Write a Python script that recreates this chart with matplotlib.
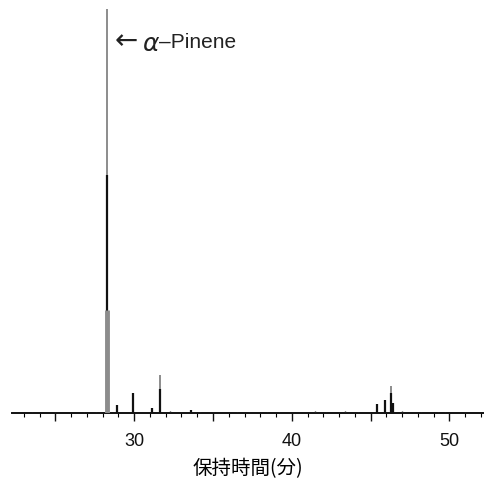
import matplotlib.pyplot as plt
import numpy as np

plt.rcParams['font.family'] = ['Liberation Sans', 'Noto Sans CJK JP', 'DejaVu Sans']

# peaks (retention time in min, height in arbitrary units)
peak_times = [28.29, 28.92, 29.94, 31.1, 31.65, 33.6, 45.4, 45.9, 46.3, 46.45]
black_heights = [238, 8, 20, 5, 24, 3, 9, 13, 20, 10]
gray_heights = [403, 6, 17, 3, 38, 2, 7, 11, 27, 8]
main_thick = 103  # lower wide grey part of the alpha-pinene peak

# baseline bumps
noise_times = [23.5, 25.0, 26.8, 27.6, 32.3, 33.0, 34.2, 35.0, 36.5, 37.3, 38.4,
               39.2, 41.5, 42.2, 43.0, 43.4, 44.2, 47.0, 48.2, 49.3, 49.7, 51.0]
noise_heights = [1, 1, 1, 1, 2, 1.5, 1.5, 1, 1.5, 1, 1, 1, 2, 1, 1.5, 2.5, 1, 2, 1, 1.5, 1.5, 1]

major_ticks = [25, 30, 35, 40, 45, 50]
tick_labels = ['', '30', '', '40', '', '50']

fig = plt.figure(figsize=(4.84, 4.86), dpi=100)
ax = fig.add_axes([0.025, 0.15, 0.975, 0.835])

ax.vlines(peak_times, 0, gray_heights, color='#8c8c8c', lw=1.4, zorder=2)
ax.vlines(peak_times, 0, black_heights, color='#111111', lw=1.6, zorder=3)
ax.vlines([peak_times[0]], 0, [main_thick], color='#8c8c8c', lw=3.5, zorder=4)
ax.vlines(noise_times, 0, noise_heights, color='#222222', lw=1.0, zorder=3)

ax.set_xlim(22.25, 52.2)
ax.set_ylim(0, 405)

for s in ['top', 'right', 'left']:
    ax.spines[s].set_visible(False)
ax.spines['bottom'].set_linewidth(1.4)
ax.spines['bottom'].set_color('#111111')
ax.set_yticks([])

ax.set_xticks(major_ticks)
ax.set_xticklabels(tick_labels, fontsize=13)
ax.set_xticks(np.arange(23, 53, 1), minor=True)
ax.tick_params(axis='x', which='major', length=6, width=1.0, direction='out', pad=8, colors='#111111')
ax.tick_params(axis='x', which='minor', length=3, width=0.8, direction='out')

ax.set_xlabel('保持時間(分)', fontsize=14, labelpad=6, family=['Noto Sans CJK JP', 'DejaVu Sans'])

ax.text(28.75, 371, '←', fontsize=20, va='center', ha='left', family='DejaVu Sans', color='#222222')
ax.text(30.5, 368, r'$\alpha$', fontsize=18, va='center', ha='left', color='#222222')
ax.text(31.6, 370, '–Pinene', fontsize=15, va='center', ha='left', color='#222222')

fig.savefig('out.png', dpi=100)
